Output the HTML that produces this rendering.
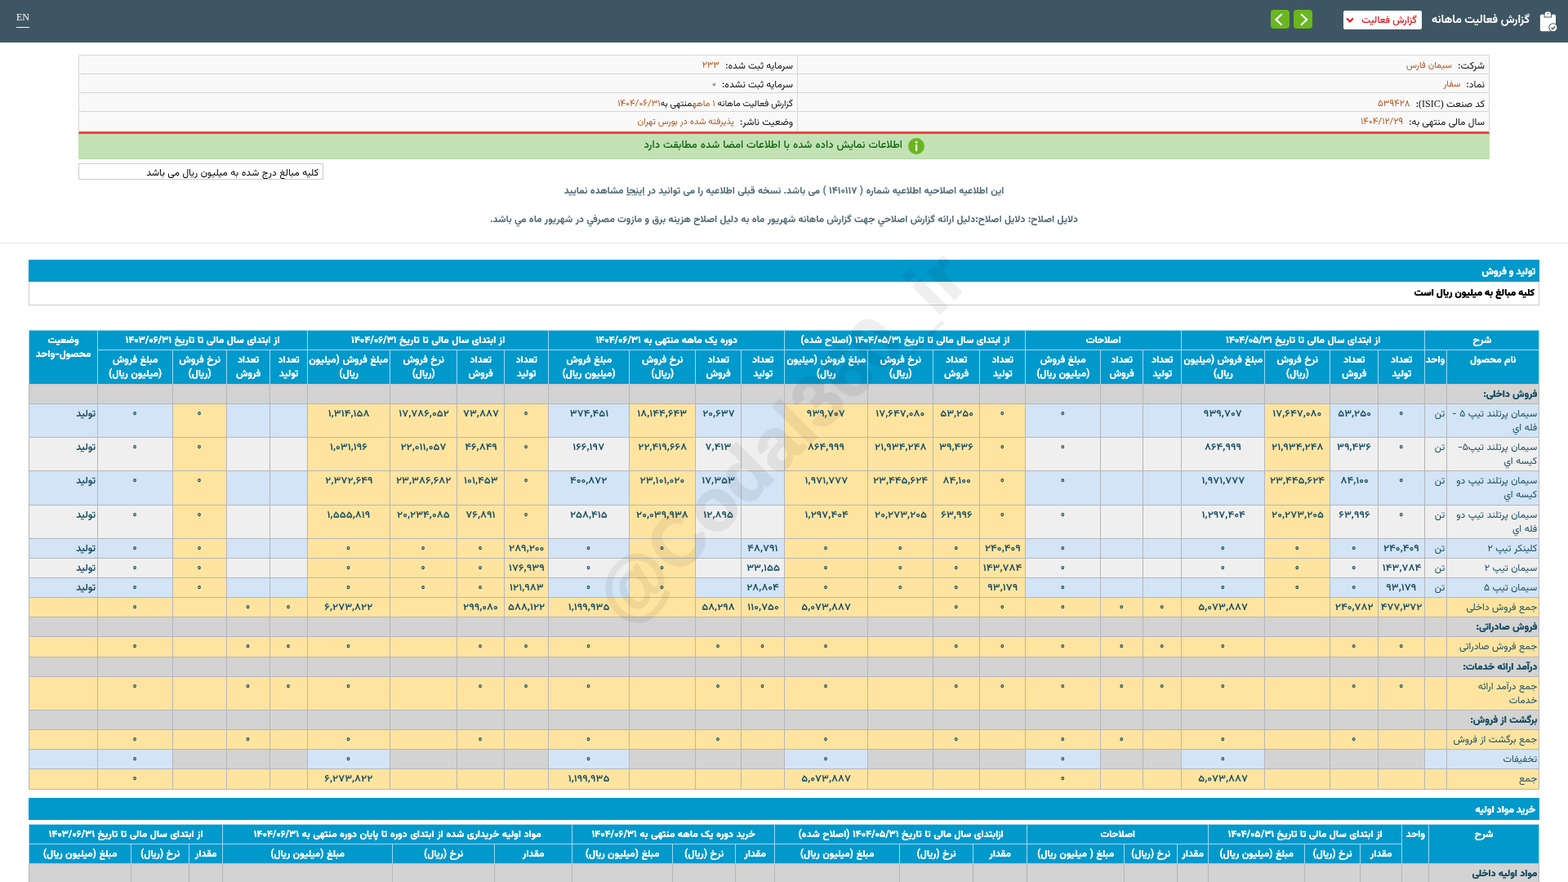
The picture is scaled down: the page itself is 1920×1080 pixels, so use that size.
<!DOCTYPE html>
<html lang="fa" dir="rtl">
<head>
<meta charset="utf-8">
<title>گزارش فعالیت ماهانه</title>
<style>
*{box-sizing:border-box}
html,body{margin:0;padding:0}
body{width:1920px;height:1080px;overflow:hidden;background:#fff;direction:rtl;font-family:"Vazirmatn", "DejaVu Sans", sans-serif;font-size:12px;line-height:1.42857143;color:#333;position:relative}
.abs{position:absolute}
#top{left:0;top:0;width:1920px;height:52px;background:#3e5663}
#en{left:20px;top:14px;color:#fff;font-family:"Liberation Serif","DejaVu Serif",serif;font-size:12px;line-height:14px;direction:ltr;padding-bottom:5px;border-bottom:1px solid #fff;width:16px;text-align:center}
#ttl{right:47px;top:13px;color:#fff;font-weight:bold;font-size:14px;line-height:24px;white-space:nowrap}
#dd{left:1645px;top:13px;width:96px;height:23px;background:#fff;border-radius:2px;color:#e0161b;font-size:12px;font-weight:500;line-height:25px;white-space:nowrap;text-align:right;padding-right:6px}
.gb{top:12px;width:23px;height:23px;background:#6ab61e;border-radius:4px}
#info{left:96px;top:67px;width:1728px;height:97px;border:1px solid #d6d6d6;border-bottom:3px solid #e8473f;border-radius:3px 3px 0 0;background:#f9f9f9}
.ir{position:absolute;left:0;width:1726px;height:23px;border-top:1px solid #d6d6d6}
.ic{position:absolute;top:0;height:22px;line-height:26px;white-space:nowrap;color:#111;padding:0 5px}
.ic b{font-weight:normal;color:#b5561f;margin-right:4px;font-size:11px;position:relative;top:-1px}
.ic b.d{font-size:11.6px}
.ic.s{font-size:11px}
.ic.s b{top:0}
.ic.l{padding-right:4px}
.lat{font-family:"Liberation Serif","DejaVu Serif",serif;direction:ltr;unicode-bidi:isolate}
#green{left:96px;top:164px;width:1728px;height:31px;background:#c2e2b4;border-bottom:1px solid #b5d3a8}
#gtxt{right:719px;top:0;height:30px;line-height:29px;color:#116611;font-size:13px;font-weight:500;word-spacing:.6px;white-space:nowrap}
#gi{left:1016px;top:5px;width:20px;height:20px;border-radius:50%;background:#6ab61e}
#inp{left:96px;top:200px;width:300px;height:20px;border:1px solid #ccc;background:#fff;color:#000;line-height:22px;padding-right:5px;white-space:nowrap;font-size:12px;word-spacing:.4px}
.note{left:0;width:1920px;text-align:center;font-weight:bold;font-size:12px;word-spacing:.3px;color:#4d6872;white-space:nowrap;line-height:18px}
#hr{left:0;top:297px;width:1920px;height:1px;background:#e8e8e8}
.sec{left:35px;width:1850px;height:27px;background:#0099cc;color:#fff;font-weight:800;line-height:30px;padding-right:5px;white-space:nowrap;overflow:hidden;text-shadow:.45px 0 0 #fff}
#sub{left:35px;top:345px;width:1850px;height:29px;border:1px solid #ccc;border-top:0;color:#000;font-weight:800;text-shadow:.35px 0 0 #000;line-height:29px;padding-right:5px;white-space:nowrap;background:#fff}
table{border-collapse:collapse;table-layout:fixed;position:absolute;left:35px;width:1849px;direction:rtl}
th,td{padding:4px 2px 2px;vertical-align:top;overflow:hidden;font-size:12px;line-height:17.1429px;white-space:nowrap}
th{background:#0099cc;color:#fff;font-weight:bold;text-align:center;border:1px solid #9fd8f0;word-spacing:.6px;text-shadow:.25px 0 0 #fff}
td{border:1px solid #b6b6bb;color:#1b4f63;text-align:center;word-spacing:.3px}
td.r{text-align:right;padding-right:2px}
.n{display:inline-block;font-weight:600;transform:scaleX(1.1);transform-origin:center}
.z{display:inline-block;font-weight:600;font-size:11.5px;position:relative;top:-1px;left:-.5px}
.hn{letter-spacing:.3px}
tr.g td{background:#d3d3d3}
tr.g td.r{font-weight:700;text-shadow:.35px 0 0 #1b4f63}
td.st{font-weight:bold}
th,.note,.sec,#sub,#ttl,tr.g td.r,td.st,.n,.z{font-family:"Vazirmatn","DejaVu Sans Condensed","DejaVu Sans",sans-serif}
tr.h2 th, th[rowspan]{border-bottom-color:#c4c4c4}
tr.b td{background:#d2e4f5}
tr.w td{background:#efefef}
tr.y td, td.y{background:#ffe4a0 !important}
td.gg{background:#d3d3d3 !important}
td.bb{background:#d2e4f5 !important}
#wm{left:656px;top:490px;width:600px;text-align:center;font-family:"Liberation Sans","DejaVu Sans",sans-serif;font-weight:bold;font-size:90px;line-height:92px;color:#000;-webkit-text-stroke:1.6px #000;opacity:.06;transform:rotate(-45deg);transform-origin:center;white-space:nowrap;direction:ltr;pointer-events:none;letter-spacing:0}
</style>
</head>
<body>
<div id="top" class="abs">
<div id="en" class="abs">EN</div>
<svg class="abs" style="left:1880px;top:10px" width="30" height="32" viewBox="0 0 30 32"><rect x="5.9" y="7.7" width="19.1" height="20.5" rx="1.8" fill="#fff"/><path d="M10.6 11.4V8.2a4.7 4.4 0 0 1 9.4 0v3.2z" fill="#3e5663"/><path d="M11.6 10.5V7.6a3.7 3.4 0 0 1 7.4 0v2.9z" fill="#fff"/><circle cx="15.3" cy="6.7" r="0.8" fill="#3e5663"/><circle cx="21.9" cy="23.8" r="5.6" fill="#3e5663"/><circle cx="21.9" cy="23.8" r="4.5" fill="#fff"/><path d="M19.6 23.9l1.7 1.6 3-3.1" stroke="#3e5663" stroke-width="1.4" fill="none"/></svg>
<div id="ttl" class="abs">گزارش فعالیت ماهانه</div>
<div id="dd" class="abs">گزارش فعالیت<svg class="abs" style="left:3px;top:8px" width="10" height="8" viewBox="0 0 10 8"><path d="M1.2 1.6L5 5.4 8.8 1.6" stroke="#e0161b" stroke-width="2.1" fill="none"/></svg></div>
<div class="gb abs" style="left:1584px"><svg width="23" height="23" viewBox="0 0 23 23"><path d="M9 5.3L16.2 12 9 18.7" stroke="#fff" stroke-width="2.2" fill="none"/></svg></div>
<div class="gb abs" style="left:1556px"><svg width="23" height="23" viewBox="0 0 23 23"><path d="M13.7 5.3L6.5 12 13.7 18.7" stroke="#fff" stroke-width="2.2" fill="none"/></svg></div>
</div>
<div id="info" class="abs">
<div class="ir" style="top:0px;border-top:0"><div class="ic" style="right:0">شرکت: <b>سیمان فارس</b></div><div class="ic l" style="right:848px">سرمایه ثبت شده: <b class="d">۲۳۳</b></div></div>
<div class="ir" style="top:22px"><div class="ic" style="right:0">نماد: <b>سفار</b></div><div class="ic l" style="right:848px">سرمایه ثبت نشده: <b class="d">۰</b></div></div>
<div class="ir" style="top:45px"><div class="ic" style="right:0">کد صنعت <span class="lat">(ISIC)</span>: <b class="d">۵۳۹۴۲۸</b></div><div class="ic l s" style="right:848px">گزارش فعالیت ماهانه <b style="margin:0">۱ ماهه</b>منتهی به<b class="d" style="margin:0">۱۴۰۴/۰۶/۳۱</b></div></div>
<div class="ir" style="top:68px"><div class="ic" style="right:0">سال مالی منتهی به: <b class="d">۱۴۰۴/۱۲/۲۹</b></div><div class="ic l" style="right:848px">وضعیت ناشر: <b>پذیرفته شده در بورس تهران</b></div></div>
<div class="abs" style="left:879px;top:0;width:1px;height:93px;background:#d6d6d6"></div>
</div>
<div id="green" class="abs"><div id="gtxt" class="abs">اطلاعات نمایش داده شده با اطلاعات امضا شده مطابقت دارد</div><div id="gi" class="abs"><svg width="20" height="20" viewBox="0 0 20 20"><rect x="9" y="8" width="2.2" height="8" fill="#fff"/><circle cx="10.1" cy="5.2" r="1.4" fill="#fff"/></svg></div></div>
<div id="inp" class="abs">کلیه مبالغ درج شده به میلیون ریال می باشد</div>
<div class="note abs" style="top:225px">این اطلاعیه اصلاحیه اطلاعیه شماره ( ۱۴۱۰۱۱۷ ) می باشد. نسخه قبلی اطلاعیه را می توانید در <u>اینجا</u> مشاهده نمایید</div>
<div class="note abs" style="top:260px">دلایل اصلاح: دلایل اصلاح:دلیل ارائه گزارش اصلاحي جهت گزارش ماهانه شهریور ماه به دلیل اصلاح هزینه برق و مازوت مصرفي در شهریور ماه مي باشد.</div>
<div id="hr" class="abs"></div>
<div class="sec abs" style="top:318px">تولید و فروش</div>
<div id="sub" class="abs">کلیه مبالغ به میلیون ریال است</div>
<table style="top:404.1px">
<colgroup><col style="width:113px"><col style="width:27px"><col style="width:57px"><col style="width:59px"><col style="width:80px"><col style="width:102px"><col style="width:47px"><col style="width:52px"><col style="width:92px"><col style="width:56px"><col style="width:57px"><col style="width:80px"><col style="width:102px"><col style="width:53px"><col style="width:56px"><col style="width:81px"><col style="width:99px"><col style="width:54px"><col style="width:58px"><col style="width:82px"><col style="width:101px"><col style="width:46px"><col style="width:53px"><col style="width:66px"><col style="width:92px"><col style="width:84px"></colgroup>
<tr><th colspan="2">شرح</th><th colspan="4">از ابتدای سال مالی تا تاریخ <span class="hn">۱۴۰۴/۰۵/۳۱</span></th><th colspan="3">اصلاحات</th><th colspan="4">از ابتدای سال مالی تا تاریخ <span class="hn">۱۴۰۴/۰۵/۳۱</span> (اصلاح شده)</th><th colspan="4">دوره یک ماهه منتهی به <span class="hn">۱۴۰۴/۰۶/۳۱</span></th><th colspan="4">از ابتدای سال مالی تا تاریخ <span class="hn">۱۴۰۴/۰۶/۳۱</span></th><th colspan="4">از ابتدای سال مالی تا تاریخ <span class="hn">۱۴۰۳/۰۶/۳۱</span></th><th rowspan="2">وضعیت<br>محصول-واحد</th></tr>
<tr class="h2"><th>نام محصول</th><th>واحد</th><th>تعداد<br>تولید</th><th>تعداد<br>فروش</th><th>نرخ فروش<br>(ریال)</th><th>مبلغ فروش (میلیون<br>ریال)</th><th>تعداد<br>تولید</th><th>تعداد<br>فروش</th><th>مبلغ فروش<br>(میلیون ریال)</th><th>تعداد<br>تولید</th><th>تعداد<br>فروش</th><th>نرخ فروش<br>(ریال)</th><th>مبلغ فروش (میلیون<br>ریال)</th><th>تعداد<br>تولید</th><th>تعداد<br>فروش</th><th>نرخ فروش<br>(ریال)</th><th>مبلغ فروش<br>(میلیون ریال)</th><th>تعداد<br>تولید</th><th>تعداد<br>فروش</th><th>نرخ فروش<br>(ریال)</th><th>مبلغ فروش (میلیون<br>ریال)</th><th>تعداد<br>تولید</th><th>تعداد<br>فروش</th><th>نرخ فروش<br>(ریال)</th><th>مبلغ فروش<br>(میلیون ریال)</th></tr>
<tr class="g"><td class="r">فروش داخلی:</td><td class="r"></td><td></td><td></td><td></td><td></td><td></td><td></td><td></td><td></td><td></td><td></td><td></td><td></td><td></td><td></td><td></td><td></td><td></td><td></td><td></td><td></td><td></td><td></td><td></td><td class="r st"></td></tr>
<tr class="b"><td class="r">سیمان پرتلند تیپ ۵ -<br>فله اي</td><td class="r">تن</td><td><span class="z">۰</span></td><td><span class="n">۵۳,۲۵۰</span></td><td class="y"><span class="n">۱۷,۶۴۷,۰۸۰</span></td><td><span class="n">۹۳۹,۷۰۷</span></td><td></td><td></td><td><span class="z">۰</span></td><td class="y"><span class="z">۰</span></td><td class="y"><span class="n">۵۳,۲۵۰</span></td><td class="y"><span class="n">۱۷,۶۴۷,۰۸۰</span></td><td class="y"><span class="n">۹۳۹,۷۰۷</span></td><td></td><td><span class="n">۲۰,۶۳۷</span></td><td class="y"><span class="n">۱۸,۱۴۴,۶۴۳</span></td><td><span class="n">۳۷۴,۴۵۱</span></td><td class="y"><span class="z">۰</span></td><td class="y"><span class="n">۷۳,۸۸۷</span></td><td class="y"><span class="n">۱۷,۷۸۶,۰۵۲</span></td><td class="y"><span class="n">۱,۳۱۴,۱۵۸</span></td><td></td><td></td><td class="y"><span class="z">۰</span></td><td><span class="z">۰</span></td><td class="r st">تولید</td></tr>
<tr class="w"><td class="r">سیمان پرتلند تیپ۵-<br>کیسه اي</td><td class="r">تن</td><td><span class="z">۰</span></td><td><span class="n">۳۹,۴۳۶</span></td><td class="y"><span class="n">۲۱,۹۳۴,۲۴۸</span></td><td><span class="n">۸۶۴,۹۹۹</span></td><td></td><td></td><td><span class="z">۰</span></td><td class="y"><span class="z">۰</span></td><td class="y"><span class="n">۳۹,۴۳۶</span></td><td class="y"><span class="n">۲۱,۹۳۴,۲۴۸</span></td><td class="y"><span class="n">۸۶۴,۹۹۹</span></td><td></td><td><span class="n">۷,۴۱۳</span></td><td class="y"><span class="n">۲۲,۴۱۹,۶۶۸</span></td><td><span class="n">۱۶۶,۱۹۷</span></td><td class="y"><span class="z">۰</span></td><td class="y"><span class="n">۴۶,۸۴۹</span></td><td class="y"><span class="n">۲۲,۰۱۱,۰۵۷</span></td><td class="y"><span class="n">۱,۰۳۱,۱۹۶</span></td><td></td><td></td><td class="y"><span class="z">۰</span></td><td><span class="z">۰</span></td><td class="r st">تولید</td></tr>
<tr class="b"><td class="r">سیمان پرتلند تیپ دو<br>کیسه اي</td><td class="r">تن</td><td><span class="z">۰</span></td><td><span class="n">۸۴,۱۰۰</span></td><td class="y"><span class="n">۲۳,۴۴۵,۶۲۴</span></td><td><span class="n">۱,۹۷۱,۷۷۷</span></td><td></td><td></td><td><span class="z">۰</span></td><td class="y"><span class="z">۰</span></td><td class="y"><span class="n">۸۴,۱۰۰</span></td><td class="y"><span class="n">۲۳,۴۴۵,۶۲۴</span></td><td class="y"><span class="n">۱,۹۷۱,۷۷۷</span></td><td></td><td><span class="n">۱۷,۳۵۳</span></td><td class="y"><span class="n">۲۳,۱۰۱,۰۲۰</span></td><td><span class="n">۴۰۰,۸۷۲</span></td><td class="y"><span class="z">۰</span></td><td class="y"><span class="n">۱۰۱,۴۵۳</span></td><td class="y"><span class="n">۲۳,۳۸۶,۶۸۲</span></td><td class="y"><span class="n">۲,۳۷۲,۶۴۹</span></td><td></td><td></td><td class="y"><span class="z">۰</span></td><td><span class="z">۰</span></td><td class="r st">تولید</td></tr>
<tr class="w"><td class="r">سیمان پرتلند تیپ دو<br>فله اي</td><td class="r">تن</td><td><span class="z">۰</span></td><td><span class="n">۶۳,۹۹۶</span></td><td class="y"><span class="n">۲۰,۲۷۳,۲۰۵</span></td><td><span class="n">۱,۲۹۷,۴۰۴</span></td><td></td><td></td><td><span class="z">۰</span></td><td class="y"><span class="z">۰</span></td><td class="y"><span class="n">۶۳,۹۹۶</span></td><td class="y"><span class="n">۲۰,۲۷۳,۲۰۵</span></td><td class="y"><span class="n">۱,۲۹۷,۴۰۴</span></td><td></td><td><span class="n">۱۲,۸۹۵</span></td><td class="y"><span class="n">۲۰,۰۳۹,۹۳۸</span></td><td><span class="n">۲۵۸,۴۱۵</span></td><td class="y"><span class="z">۰</span></td><td class="y"><span class="n">۷۶,۸۹۱</span></td><td class="y"><span class="n">۲۰,۲۳۴,۰۸۵</span></td><td class="y"><span class="n">۱,۵۵۵,۸۱۹</span></td><td></td><td></td><td class="y"><span class="z">۰</span></td><td><span class="z">۰</span></td><td class="r st">تولید</td></tr>
<tr class="b"><td class="r">کلینکر تیپ ۲</td><td class="r">تن</td><td><span class="n">۲۴۰,۴۰۹</span></td><td><span class="z">۰</span></td><td class="y"><span class="z">۰</span></td><td><span class="z">۰</span></td><td></td><td></td><td><span class="z">۰</span></td><td class="y"><span class="n">۲۴۰,۴۰۹</span></td><td class="y"><span class="z">۰</span></td><td class="y"><span class="z">۰</span></td><td class="y"><span class="z">۰</span></td><td><span class="n">۴۸,۷۹۱</span></td><td></td><td class="y"><span class="z">۰</span></td><td><span class="z">۰</span></td><td class="y"><span class="n">۲۸۹,۲۰۰</span></td><td class="y"><span class="z">۰</span></td><td class="y"><span class="z">۰</span></td><td class="y"><span class="z">۰</span></td><td></td><td></td><td class="y"><span class="z">۰</span></td><td><span class="z">۰</span></td><td class="r st">تولید</td></tr>
<tr class="w"><td class="r">سیمان تیپ ۲</td><td class="r">تن</td><td><span class="n">۱۴۳,۷۸۴</span></td><td><span class="z">۰</span></td><td class="y"><span class="z">۰</span></td><td><span class="z">۰</span></td><td></td><td></td><td><span class="z">۰</span></td><td class="y"><span class="n">۱۴۳,۷۸۴</span></td><td class="y"><span class="z">۰</span></td><td class="y"><span class="z">۰</span></td><td class="y"><span class="z">۰</span></td><td><span class="n">۳۳,۱۵۵</span></td><td></td><td class="y"><span class="z">۰</span></td><td><span class="z">۰</span></td><td class="y"><span class="n">۱۷۶,۹۳۹</span></td><td class="y"><span class="z">۰</span></td><td class="y"><span class="z">۰</span></td><td class="y"><span class="z">۰</span></td><td></td><td></td><td class="y"><span class="z">۰</span></td><td><span class="z">۰</span></td><td class="r st">تولید</td></tr>
<tr class="b"><td class="r">سیمان تیپ ۵</td><td class="r">تن</td><td><span class="n">۹۳,۱۷۹</span></td><td><span class="z">۰</span></td><td class="y"><span class="z">۰</span></td><td><span class="z">۰</span></td><td></td><td></td><td><span class="z">۰</span></td><td class="y"><span class="n">۹۳,۱۷۹</span></td><td class="y"><span class="z">۰</span></td><td class="y"><span class="z">۰</span></td><td class="y"><span class="z">۰</span></td><td><span class="n">۲۸,۸۰۴</span></td><td></td><td class="y"><span class="z">۰</span></td><td><span class="z">۰</span></td><td class="y"><span class="n">۱۲۱,۹۸۳</span></td><td class="y"><span class="z">۰</span></td><td class="y"><span class="z">۰</span></td><td class="y"><span class="z">۰</span></td><td></td><td></td><td class="y"><span class="z">۰</span></td><td><span class="z">۰</span></td><td class="r st">تولید</td></tr>
<tr class="y"><td class="r">جمع فروش داخلی</td><td class="r"></td><td><span class="n">۴۷۷,۳۷۲</span></td><td><span class="n">۲۴۰,۷۸۲</span></td><td></td><td><span class="n">۵,۰۷۳,۸۸۷</span></td><td><span class="z">۰</span></td><td><span class="z">۰</span></td><td><span class="z">۰</span></td><td><span class="z">۰</span></td><td><span class="z">۰</span></td><td></td><td><span class="n">۵,۰۷۳,۸۸۷</span></td><td><span class="n">۱۱۰,۷۵۰</span></td><td><span class="n">۵۸,۲۹۸</span></td><td></td><td><span class="n">۱,۱۹۹,۹۳۵</span></td><td><span class="n">۵۸۸,۱۲۲</span></td><td><span class="n">۲۹۹,۰۸۰</span></td><td></td><td><span class="n">۶,۲۷۳,۸۲۲</span></td><td><span class="z">۰</span></td><td><span class="z">۰</span></td><td></td><td><span class="z">۰</span></td><td class="r st"></td></tr>
<tr class="g"><td class="r">فروش صادراتی:</td><td class="r"></td><td></td><td></td><td></td><td></td><td></td><td></td><td></td><td></td><td></td><td></td><td></td><td></td><td></td><td></td><td></td><td></td><td></td><td></td><td></td><td></td><td></td><td></td><td></td><td class="r st"></td></tr>
<tr class="y"><td class="r">جمع فروش صادراتی</td><td class="r"></td><td><span class="z">۰</span></td><td><span class="z">۰</span></td><td></td><td><span class="z">۰</span></td><td><span class="z">۰</span></td><td><span class="z">۰</span></td><td><span class="z">۰</span></td><td><span class="z">۰</span></td><td><span class="z">۰</span></td><td></td><td><span class="z">۰</span></td><td><span class="z">۰</span></td><td><span class="z">۰</span></td><td></td><td><span class="z">۰</span></td><td><span class="z">۰</span></td><td><span class="z">۰</span></td><td></td><td><span class="z">۰</span></td><td><span class="z">۰</span></td><td><span class="z">۰</span></td><td></td><td><span class="z">۰</span></td><td class="r st"></td></tr>
<tr class="g"><td class="r">درآمد ارائه خدمات:</td><td class="r"></td><td></td><td></td><td></td><td></td><td></td><td></td><td></td><td></td><td></td><td></td><td></td><td></td><td></td><td></td><td></td><td></td><td></td><td></td><td></td><td></td><td></td><td></td><td></td><td class="r st"></td></tr>
<tr class="y"><td class="r">جمع درآمد ارائه<br>خدمات</td><td class="r"></td><td><span class="z">۰</span></td><td><span class="z">۰</span></td><td></td><td><span class="z">۰</span></td><td><span class="z">۰</span></td><td><span class="z">۰</span></td><td><span class="z">۰</span></td><td><span class="z">۰</span></td><td><span class="z">۰</span></td><td></td><td><span class="z">۰</span></td><td><span class="z">۰</span></td><td><span class="z">۰</span></td><td></td><td><span class="z">۰</span></td><td><span class="z">۰</span></td><td><span class="z">۰</span></td><td></td><td><span class="z">۰</span></td><td><span class="z">۰</span></td><td><span class="z">۰</span></td><td></td><td><span class="z">۰</span></td><td class="r st"></td></tr>
<tr class="g"><td class="r">برگشت از فروش:</td><td class="r"></td><td></td><td></td><td></td><td></td><td></td><td></td><td></td><td></td><td></td><td></td><td></td><td></td><td></td><td></td><td></td><td></td><td></td><td></td><td></td><td></td><td></td><td></td><td></td><td class="r st"></td></tr>
<tr class="y"><td class="r">جمع برگشت از فروش</td><td class="r"></td><td></td><td><span class="z">۰</span></td><td></td><td><span class="z">۰</span></td><td></td><td><span class="z">۰</span></td><td><span class="z">۰</span></td><td></td><td><span class="z">۰</span></td><td></td><td><span class="z">۰</span></td><td></td><td><span class="z">۰</span></td><td></td><td><span class="z">۰</span></td><td></td><td><span class="z">۰</span></td><td></td><td><span class="z">۰</span></td><td></td><td><span class="z">۰</span></td><td></td><td><span class="z">۰</span></td><td class="r st"></td></tr>
<tr class="b"><td class="r">تخفیفات</td><td class="r"></td><td class="gg"></td><td class="gg"></td><td class="gg"></td><td class="bb"><span class="z">۰</span></td><td class="gg"></td><td class="gg"></td><td class="bb"><span class="z">۰</span></td><td class="gg"></td><td class="gg"></td><td class="gg"></td><td class="bb"><span class="z">۰</span></td><td class="gg"></td><td class="gg"></td><td class="gg"></td><td class="bb"><span class="z">۰</span></td><td class="gg"></td><td class="gg"></td><td class="gg"></td><td class="bb"><span class="z">۰</span></td><td class="gg"></td><td class="gg"></td><td class="gg"></td><td class="bb"><span class="z">۰</span></td><td class="r st"></td></tr>
<tr class="y"><td class="r">جمع</td><td class="r"></td><td></td><td></td><td></td><td><span class="n">۵,۰۷۳,۸۸۷</span></td><td></td><td></td><td><span class="z">۰</span></td><td></td><td></td><td></td><td><span class="n">۵,۰۷۳,۸۸۷</span></td><td></td><td></td><td></td><td><span class="n">۱,۱۹۹,۹۳۵</span></td><td></td><td></td><td></td><td><span class="n">۶,۲۷۳,۸۲۲</span></td><td></td><td></td><td></td><td><span class="z">۰</span></td><td class="r st"></td></tr>
</table>
<div id="wm" class="abs">@Codal360_ir</div>
<div class="sec abs" style="top:977px">خرید مواد اولیه</div>
<table style="top:1009.2px">
<colgroup><col style="width:135px"><col style="width:33px"><col style="width:51px"><col style="width:68px"><col style="width:118px"><col style="width:38px"><col style="width:65px"><col style="width:119px"><col style="width:66px"><col style="width:90px"><col style="width:153px"><col style="width:48px"><col style="width:77px"><col style="width:123px"><col style="width:95px"><col style="width:125px"><col style="width:208px"><col style="width:41px"><col style="width:71px"><col style="width:125px"></colgroup>
<tr><th rowspan="2">شرح</th><th rowspan="2">واحد</th><th colspan="3">از ابتدای سال مالی تا تاریخ <span class="hn">۱۴۰۴/۰۵/۳۱</span></th><th colspan="3">اصلاحات</th><th colspan="3">ازابتدای سال مالی تا تاریخ <span class="hn">۱۴۰۴/۰۵/۳۱</span> (اصلاح شده)</th><th colspan="3">خرید دوره یک ماهه منتهی به <span class="hn">۱۴۰۴/۰۶/۳۱</span></th><th colspan="3">مواد اولیه خریداری شده از ابتدای دوره تا پایان دوره منتهی به <span class="hn">۱۴۰۴/۰۶/۳۱</span></th><th colspan="3">از ابتدای سال مالی تا تاریخ <span class="hn">۱۴۰۳/۰۶/۳۱</span></th></tr>
<tr class="h2"><th>مقدار</th><th>نرخ (ریال)</th><th>مبلغ (میلیون ریال)</th><th>مقدار</th><th>نرخ (ریال)</th><th>مبلغ ( میلیون ریال)</th><th>مقدار</th><th>نرخ (ریال)</th><th>مبلغ (میلیون ریال)</th><th>مقدار</th><th>نرخ (ریال)</th><th>مبلغ (میلیون ریال)</th><th>مقدار</th><th>نرخ (ریال)</th><th>مبلغ (میلیون ریال)</th><th>مقدار</th><th>نرخ (ریال)</th><th>مبلغ (میلیون ریال)</th></tr>
<tr class="g"><td class="r">مواد اولیه داخلی</td><td></td><td></td><td></td><td></td><td></td><td></td><td></td><td></td><td></td><td></td><td></td><td></td><td></td><td></td><td></td><td></td><td></td><td></td><td></td></tr>
</table>
</body>
</html>
